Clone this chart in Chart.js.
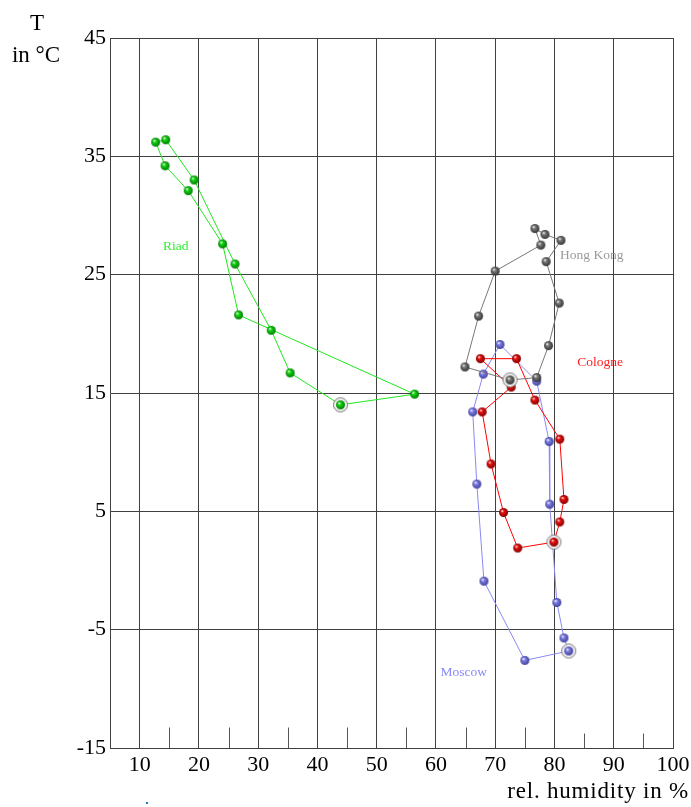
<!DOCTYPE html>
<html>
<head>
<meta charset="utf-8">
<title>Climate loops</title>
<script src="https://cdn.jsdelivr.net/npm/chart.js@4.4.1/dist/chart.umd.min.js"></script>
<style>
    html, body { margin: 0; padding: 0; background: #fff; }
    canvas { display: block; }
</style>
</head>
<body>
<canvas id="climate" width="691" height="807"></canvas>
<script>
"use strict";

// monthly means, January first (the ringed point)
const months = ["Jan", "Feb", "Mar", "Apr", "May", "Jun", "Jul", "Aug", "Sep", "Oct", "Nov", "Dec"];
const cities = ["Hong Kong", "Cologne", "Moscow", "Riad"];

const riadHumidity = [43.9, 35.4, 32.2, 26.1, 19.2, 14.4, 12.7, 14.3, 18.2, 24.0, 26.7, 56.4];
const riadTemp = [14.0, 16.7, 20.3, 25.9, 33.0, 36.4, 36.2, 34.2, 32.1, 27.6, 21.6, 14.9];

const hongKongHumidity = [72.5, 77.0, 79.0, 80.8, 78.6, 81.1, 78.4, 76.7, 77.7, 70.0, 67.2, 64.9];
const hongKongTemp = [16.1, 16.3, 19.0, 22.6, 26.1, 27.9, 28.4, 28.9, 27.5, 25.3, 21.5, 17.2];

const cologneHumidity = [79.9, 73.8, 71.4, 69.3, 67.8, 72.7, 67.5, 73.6, 76.7, 80.9, 81.6, 80.9];
const cologneTemp = [2.4, 1.9, 4.9, 9.0, 13.4, 15.5, 17.9, 17.9, 14.4, 11.1, 6.0, 4.1];

const moscowHumidity = [82.4, 75.0, 68.1, 66.9, 66.2, 68.0, 70.8, 77.0, 79.1, 79.2, 80.4, 81.6];
const moscowTemp = [-6.8, -7.6, -0.9, 7.3, 13.4, 16.6, 19.1, 16.0, 10.9, 5.6, -2.7, -5.7];

// where each city name sits, in data units (humidity, temperature)
const labelHumidity = [86.3, 87.7, 64.7, 16.1];
const labelTemp = [26.6, 17.6, -8.6, 27.4];

const xTicks = [10, 20, 30, 40, 50, 60, 70, 80, 90, 100];
const xMinorTicks = [15, 25, 35, 45, 55, 65, 75, 85, 95];
const yTicks = [-15, -5, 5, 15, 25, 35, 45];

const serif = "'Liberation Serif', 'Times New Roman', serif";

function loop(hum, temp) {
    let pts = hum.map(function(h, i) {
        return { x: h, y: temp[i] };
    });
    pts.push({ x: hum[0], y: temp[0] });
    return pts;
}

function sphere(base, dark, ring) {
    let size = ring ? 17 : 11;
    let c = document.createElement("canvas");
    c.width = size;
    c.height = size;
    let g = c.getContext("2d");
    let m = size / 2;
    if (ring) {
        g.beginPath();
        g.arc(m, m, 7, 0, Math.PI * 2);
        g.fillStyle = "#fff";
        g.fill();
        g.lineWidth = 1;
        g.strokeStyle = "#6e6e6e";
        g.stroke();
        g.beginPath();
        g.arc(m, m, 5.8, 0, Math.PI * 2);
        g.strokeStyle = "#e4e4e4";
        g.stroke();
    }
    let grad = g.createRadialGradient(m - 1.5, m - 1.7, 0.2, m, m, 4.8);
    grad.addColorStop(0, "#ffffff");
    grad.addColorStop(0.3, base);
    grad.addColorStop(1, dark);
    g.beginPath();
    g.arc(m, m, 4.5, 0, Math.PI * 2);
    g.fillStyle = grad;
    g.fill();
    return c;
}

function series(label, hum, temp, line, base, dark) {
    let plain = sphere(base, dark, false);
    let ringed = sphere(base, dark, true);
    let last = hum.length;
    return {
        label: label,
        data: loop(hum, temp),
        showLine: true,
        borderColor: line,
        borderWidth: 1,
        pointStyle: function(ctx) {
            return ctx.dataIndex === 0 ? ringed : plain;
        },
        pointRadius: function(ctx) {
            return ctx.dataIndex === last ? 0 : 4;
        },
        clip: false
    };
}

const cityColors = ["#999999", "#ff2020", "#8a8af6", "#33ee33"];

const decorations = {
    id: "decorations",
    afterDraw: function(chart) {
        const ctx = chart.ctx;
        const xs = chart.scales.x;
        const ys = chart.scales.y;
        const bottom = chart.chartArea.bottom;
        ctx.save();
        // short minor ticks standing on the bottom axis
        ctx.strokeStyle = "#555";
        ctx.lineWidth = 1;
        xMinorTicks.forEach(function(v) {
            let px = Math.round(xs.getPixelForValue(v)) + 0.5;
            let len = v > 80 ? 14.5 : 20.5;
            ctx.beginPath();
            ctx.moveTo(px, bottom);
            ctx.lineTo(px, bottom - len);
            ctx.stroke();
        });
        // city names
        ctx.font = "13.5px " + serif;
        ctx.textAlign = "center";
        ctx.textBaseline = "middle";
        cities.forEach(function(name, i) {
            ctx.fillStyle = cityColors[i];
            ctx.fillText(name, xs.getPixelForValue(labelHumidity[i]), ys.getPixelForValue(labelTemp[i]));
        });
        // axis titles
        ctx.fillStyle = "#000";
        ctx.font = "23px " + serif;
        ctx.textBaseline = "alphabetic";
        ctx.fillText("T", 37, 30);
        ctx.fillText("in \u00b0C", 36, 62);
        ctx.textAlign = "right";
        ctx.letterSpacing = "0.8px";
        ctx.fillText("rel. humidity in %", 689, 798);
        ctx.letterSpacing = "0px";
        ctx.fillStyle = "#1f78c8";
        ctx.fillRect(146, 802, 2, 2);
        ctx.restore();
    }
};

new Chart(document.getElementById("climate"), {
    type: "scatter",
    data: {
        datasets: [
            series(cities[0], hongKongHumidity, hongKongTemp, "#777777", "#7a7a7a", "#2e2e2e"),
            series(cities[1], cologneHumidity, cologneTemp, "#ff0000", "#e81010", "#7a0000"),
            series(cities[2], moscowHumidity, moscowTemp, "#8a8af2", "#8080e4", "#3a3a96"),
            series(cities[3], riadHumidity, riadTemp, "#1ee81e", "#14d414", "#007400")
        ]
    },
    options: {
        responsive: false,
        animation: false,
        devicePixelRatio: 1,
        layout: {
            padding: { top: 38, right: 18, left: 0, bottom: 0 }
        },
        plugins: {
            legend: { display: false },
            tooltip: { enabled: false }
        },
        scales: {
            x: {
                type: "linear",
                min: 5,
                max: 100,
                afterBuildTicks: function(scale) {
                    scale.ticks = xTicks.map(function(v) { return { value: v }; });
                },
                afterFit: function(scale) {
                    scale.height = 59;
                    scale.paddingLeft = 0;
                    scale.paddingRight = 0;
                },
                grid: { color: "#404040", lineWidth: 1, drawTicks: false },
                border: { display: true, color: "#404040", width: 1 },
                ticks: {
                    color: "#000",
                    padding: 4,
                    maxRotation: 0,
                    font: { family: serif, size: 22 }
                }
            },
            y: {
                type: "linear",
                min: -15,
                max: 45,
                afterBuildTicks: function(scale) {
                    scale.ticks = yTicks.map(function(v) { return { value: v }; });
                },
                afterFit: function(scale) {
                    scale.width = 110;
                    scale.paddingTop = 0;
                    scale.paddingBottom = 0;
                },
                grid: { color: "#404040", lineWidth: 1, drawTicks: false },
                border: { display: true, color: "#404040", width: 1 },
                ticks: {
                    color: "#000",
                    padding: 4,
                    font: { family: serif, size: 22 }
                }
            }
        }
    },
    plugins: [decorations]
});
</script>
</body>
</html>
